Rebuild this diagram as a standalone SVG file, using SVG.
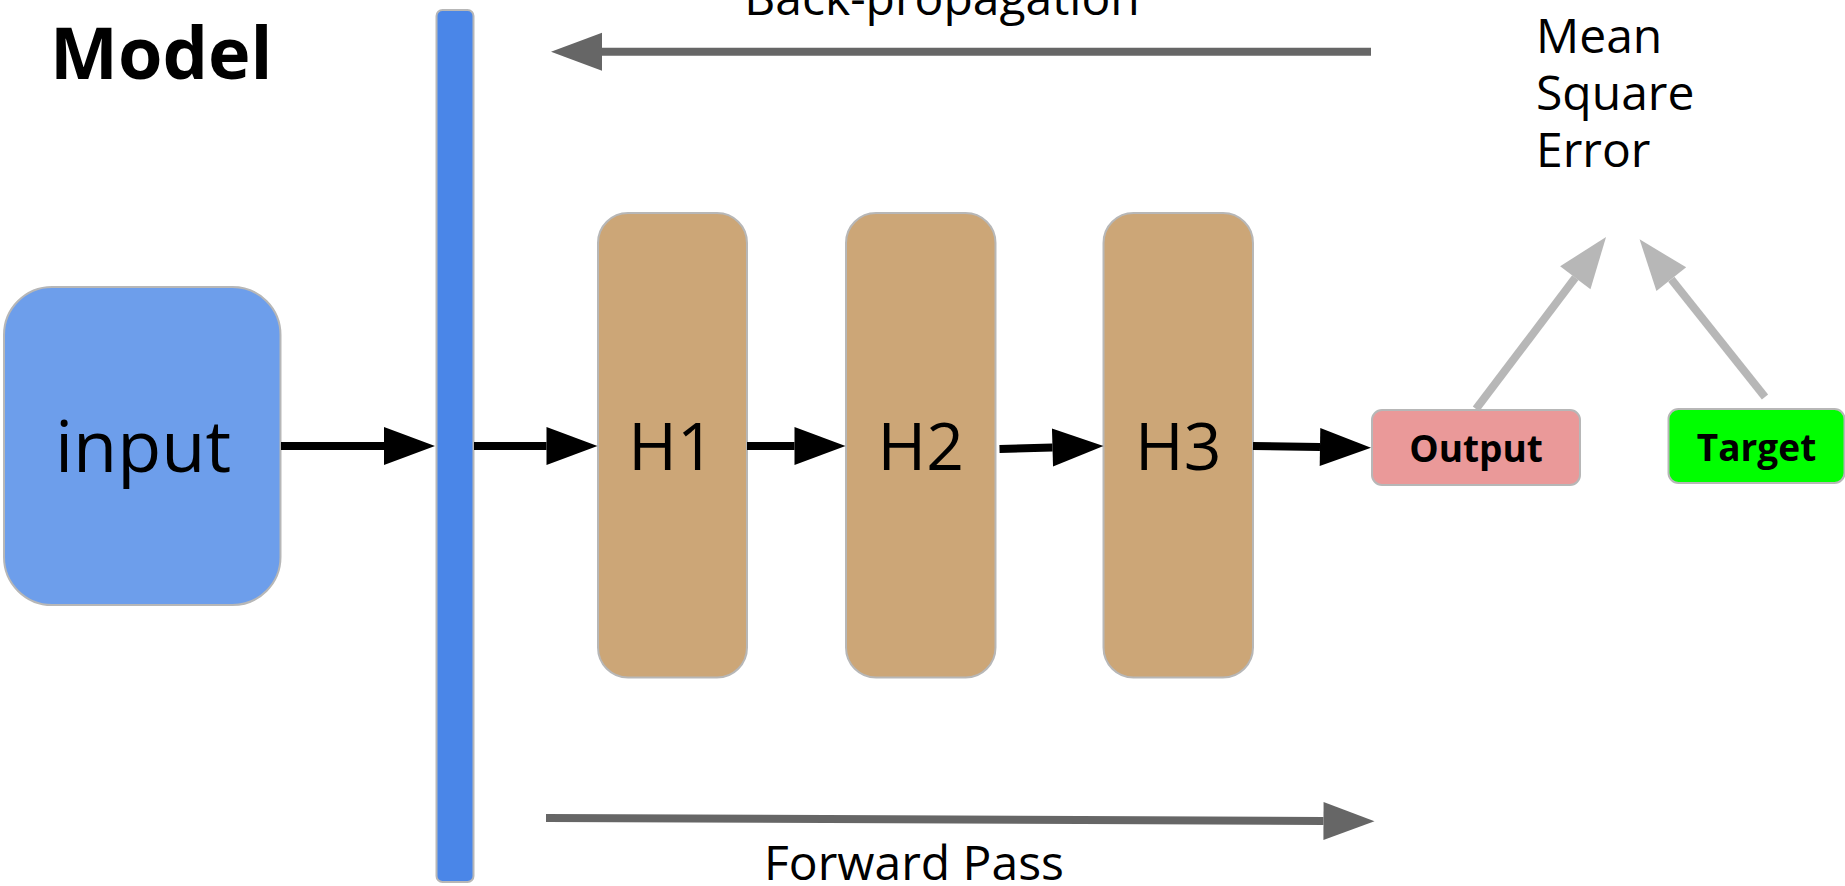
<svg xmlns="http://www.w3.org/2000/svg" width="1845" height="886" viewBox="0 0 1845 886">
<style>
text{font-family:"Open Sans","Liberation Sans",sans-serif;fill:#000}
.node{stroke:#b7b7b7;stroke-width:2}
.big{font-size:72px}
.h{font-size:66px;text-anchor:middle}
.lbl{font-size:48px}
.tag{font-size:37px;font-weight:bold;text-anchor:middle}
.blk{stroke:#000;stroke-width:8;fill:none}
.dg{stroke:#666;stroke-width:8;fill:none}
.lg{stroke:#b7b7b7;stroke-width:8;fill:none}
</style>
<defs>
<marker id="hb" markerUnits="userSpaceOnUse" markerWidth="52" markerHeight="40" refX="0" refY="20" orient="auto" overflow="visible"><path d="M0,1 L51,20 L0,39 z" fill="#000"/></marker>
<marker id="hd" markerUnits="userSpaceOnUse" markerWidth="52" markerHeight="40" refX="0" refY="20" orient="auto" overflow="visible"><path d="M0,1 L51,20 L0,39 z" fill="#666"/></marker>
<marker id="hl" markerUnits="userSpaceOnUse" markerWidth="52" markerHeight="40" refX="0" refY="20" orient="auto" overflow="visible"><path d="M0,1 L51,20 L0,39 z" fill="#b7b7b7"/></marker>
</defs>
<rect width="1845" height="886" fill="#fff"/>
<g id="title"><text x="50" y="79" font-size="72" font-weight="bold">Model</text></g>
<g id="input"><rect class="node" x="4" y="287" width="276.5" height="318" rx="48" fill="#6d9eeb"/><text class="big" x="143" y="472" text-anchor="middle">input</text></g>
<g id="bar"><rect class="node" x="436.5" y="10" width="37" height="872" rx="6" fill="#4a86e8"/></g>
<g id="H1"><rect class="node" x="598" y="213" width="149" height="464.5" rx="30" fill="#cca677"/><text class="h" x="671.5" y="470">H1</text></g>
<g id="H2"><rect class="node" x="846" y="213" width="149.5" height="464.5" rx="30" fill="#cca677"/><text class="h" x="920.7" y="470">H2</text></g>
<g id="H3"><rect class="node" x="1103.5" y="213" width="149.5" height="464.5" rx="30" fill="#cca677"/><text class="h" x="1178.3" y="470">H3</text></g>
<g id="output"><rect class="node" x="1372" y="410" width="208" height="75" rx="10" fill="#ea9999"/><text class="tag" x="1476" y="462">Output</text></g>
<g id="target"><rect class="node" x="1668.5" y="409" width="176" height="74" rx="10" fill="#00ff00"/><text class="tag" x="1756.5" y="461" font-size="38">Target</text></g>
<g id="mse"><text class="lbl" x="1536"><tspan x="1536" y="53">Mean</tspan><tspan x="1536" y="109.5">Square</tspan><tspan x="1536" y="166.5">Error</tspan></text></g>
<g id="backprop-label"><text class="lbl" x="942" y="15" text-anchor="middle">Back-propagation</text></g>
<g id="forward-label"><text class="lbl" x="764" y="880">Forward Pass</text></g>
<g id="connectors">
<path class="blk" d="M281,446 L384,446" marker-end="url(#hb)"/>
<path class="blk" d="M474,446 L546.5,446" marker-end="url(#hb)"/>
<path class="blk" d="M747,446 L794.5,446" marker-end="url(#hb)"/>
<path class="blk" d="M999.5,449 L1052.5,447.5" marker-end="url(#hb)"/>
<path class="blk" d="M1253,446 L1320,447" marker-end="url(#hb)"/>
<path class="dg" d="M1371,51.7 L602,51.7" marker-end="url(#hd)"/>
<path class="dg" d="M546,818 L1323.5,821" marker-end="url(#hd)"/>
<path class="lg" d="M1476,409 L1575.3,277.7" marker-end="url(#hl)"/>
<path class="lg" d="M1765,397 L1671.3,279.2" marker-end="url(#hl)"/>
</g>
</svg>
